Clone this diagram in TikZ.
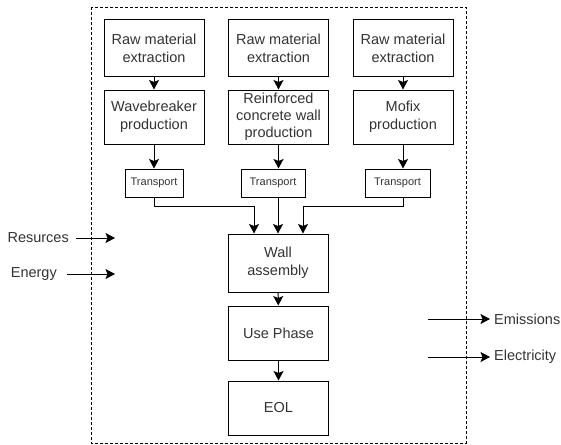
\documentclass[tikz,border=0pt]{standalone}
\usepackage{fontspec}
\setmainfont{Liberation Sans}
\usetikzlibrary{arrows.meta}
\definecolor{txt}{HTML}{333333}
\tikzset{
  box/.style={draw=black, line width=1pt, minimum width=100pt, minimum height=57pt,
    align=center, text=txt, inner sep=1pt, font=\fontsize{14.5}{18}\selectfont},
  tbox/.style={draw=black, line width=1pt, minimum height=28pt, inner sep=0pt,
    text=txt, font=\fontsize{11}{14}\selectfont},
  arr/.style={line width=1pt, -{Stealth[length=9.5pt,width=10pt,inset=2pt]}},
  lbl/.style={text=txt, inner sep=0pt, font=\fontsize{14.5}{18}\selectfont},
  sysline/.style={draw=black, line width=0.9pt, dash pattern=on 3pt off 2pt}
}
\begin{document}
\begin{tikzpicture}[x=1pt, y=-1pt]
\useasboundingbox (0,0) rectangle (561,444);

% system boundary
\draw[sysline] (91,7) rectangle (466,443);

% raw material extraction
\node[box] (r1) at (154,48) {Raw material\\extraction};
\node[box] (r2) at (278.5,48) {Raw material\\extraction};
\node[box] (r3) at (403,48) {Raw material\\extraction};

% production
\node[box, minimum height=54pt] (p1) at (154,117) {Wavebreaker\\production};
\node[box, minimum height=54pt, inner sep=0pt, font=\fontsize{14.5}{17}\selectfont] (p2) at (278.5,117) {Reinforced\\concrete wall\\production};
\node[box, minimum height=54pt] (p3) at (403,117) {Mofix\\production};

% transport
\node[tbox, minimum width=58pt] (t1) at (154,183) {Transport};
\node[tbox, minimum width=64pt] (t2) at (273,183) {Transport};
\node[tbox, minimum width=65pt] (t3) at (397.5,183) {Transport};

% life cycle
\node[box, minimum height=58pt] (wall) at (278,263) {Wall\\assembly};
\node[box, minimum height=54pt] (use) at (278.5,333) {Use Phase};
\node[box, minimum height=54pt] (eol) at (278.5,408) {EOL};

% flows
\draw[arr] (r1) -- (p1);
\draw[arr] (r2) -- (p2);
\draw[arr] (r3) -- (p3);
\draw[arr] (p1) -- (p1.south |- t1.north);
\draw[arr] (p2) -- (p2.south |- t2.north);
\draw[arr] (p3) -- (p3.south |- t3.north);

\coordinate (j1) at (154,206);
\coordinate (j3) at (403,206);
\draw[arr] (t1.south) -- (j1) -| ([xshift=-24pt]wall.north);
\draw[arr] (wall.north |- t2.south) -- (wall.north);
\draw[arr] (j3 |- t3.south) -- (j3) -| ([xshift=25pt]wall.north);

\draw[arr] (wall) -- (use);
\draw[arr] (use) -- (eol);

% inputs
\node[lbl, anchor=east] (res) at (69,238) {Resurces};
\node[lbl, anchor=east] (en) at (57,274) {Energy};
\coordinate (resE) at (115,238);
\coordinate (enE) at (115,274);
\draw[arr] ([xshift=7pt]res.east) -- (resE);
\draw[arr] ([xshift=10pt]en.east) -- (enE);

% outputs
\node[lbl, anchor=west] (em) at (494,319) {Emissions};
\node[lbl, anchor=west] (el) at (494,357) {Electricity};
\coordinate (emW) at (428,319);
\coordinate (elW) at (428,357);
\draw[arr] (emW) -- ([xshift=-4pt]em.west);
\draw[arr] (elW) -- ([xshift=-4pt]el.west);
\end{tikzpicture}
\end{document}
